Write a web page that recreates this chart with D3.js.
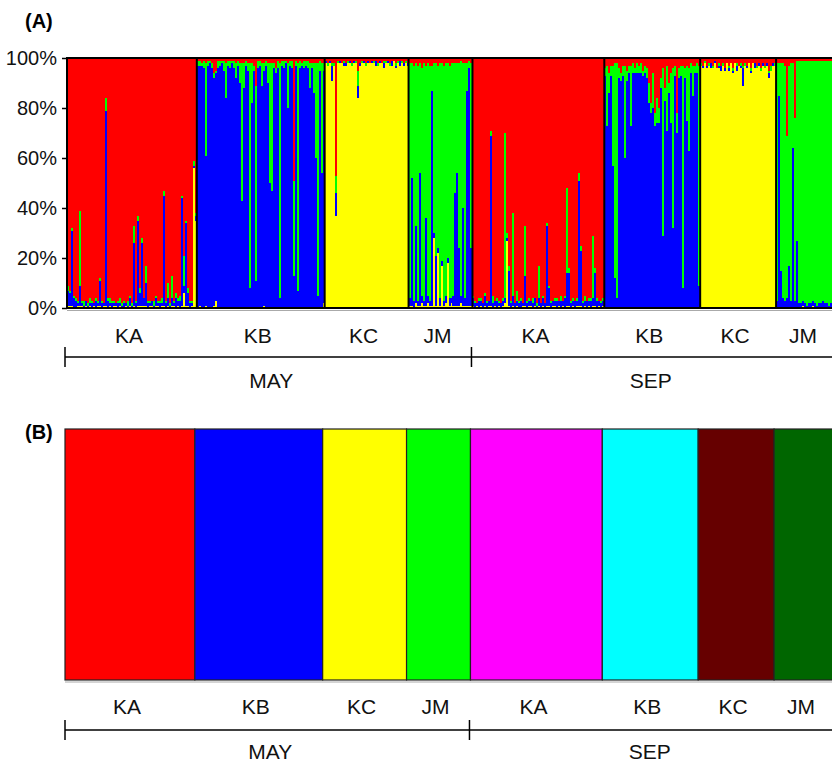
<!DOCTYPE html>
<html>
<head>
<meta charset="utf-8">
<script src="https://cdn.jsdelivr.net/npm/d3@7"></script>
<style>
  body { margin: 0; background: #fff; }
  svg { display: block; font-family: "Liberation Sans", Arial, sans-serif; }
</style>
</head>
<body>
<svg id="chart" width="832" height="763"></svg>
<script>
// clusters, stacked from the bottom of each bar upwards
const clusterKeys = ["yellow", "blue", "green", "red"];
const clusterColors = ["#ffff00", "#0000ff", "#00ff00", "#ff0000"];

const popLabels = ["KA", "KB", "KC", "JM", "KA", "KB", "KC", "JM"];
const seasonLabels = ["MAY", "SEP"];
// dominant cluster of each population, its share is the remainder to 100
const popMajor = [3, 1, 0, 2, 3, 1, 0, 2];
const yTicks = [0, 20, 40, 60, 80, 100];
// panel B: one colour per sampled population
const assignColors = ["#ff0000", "#0000ff", "#ffff00", "#00ff00", "#ff00ff", "#00ffff", "#660000", "#006600"];

// membership in % per individual: [yellow, blue, green, red] (0 at the dominant slot)
const qMayKA = [
  [1,6,2,0],[1,5,1,0],[1,30,1,0],[0,4,1,0],[0,3,1,0],[1,1,1,0],[1,8,30,0],[1,1,1,0],[0,1,2,0],[1,2,0,0],
  [0,1,1,0],[1,1,2,0],[0,2,1,0],[1,1,0,0],[0,3,1,0],[1,1,1,0],[1,10,1,0],[0,2,1,0],[1,1,0,0],[1,78,5,0],
  [0,3,1,0],[1,1,2,0],[0,2,1,0],[1,1,1,0],[1,1,0,0],[0,2,1,0],[1,1,2,0],[0,1,1,0],[0,2,1,0],[1,1,0,0],
  [0,1,2,0],[1,3,1,0],[0,1,1,0],[1,25,7,0],[0,2,1,0],[1,34,2,0],[1,5,2,0],[1,25,2,0],[1,3,0,0],[1,9,7,0],
  [0,2,1,0],[1,1,1,0],[1,2,0,0],[0,1,2,0],[1,3,1,0],[1,1,1,0],[0,2,1,0],[1,1,2,0],[1,44,2,0],[0,2,1,0],
  [1,3,6,0],[0,1,1,0],[1,3,9,0],[1,1,1,0],[0,4,2,0],[1,2,1,0],[0,3,2,0],[1,43,1,0],[6,3,12,0],[1,33,1,0],
  [1,5,2,0],[0,2,1,0],[1,1,1,0],[56,1,2,0],[35,2,1,0]
];
const qMayKB = [
  [0,0,2,1],[1,0,2,1],[0,0,1,2],[0,0,3,1],[1,0,37,2],[0,0,2,1],[0,0,1,1],[0,0,2,2],[1,0,2,6],[3,0,1,5],
  [0,0,3,1],[0,0,2,1],[0,0,1,1],[0,0,4,1],[0,0,14,2],[0,0,2,1],[0,0,3,1],[0,0,1,1],[0,0,3,1],[0,0,6,2],
  [0,0,2,1],[0,0,8,2],[0,0,55,2],[0,0,10,2],[0,0,2,1],[0,0,3,2],[0,0,90,2],[0,0,16,2],[0,0,2,3],[0,0,78,11],
  [0,0,3,1],[0,0,2,1],[0,0,9,2],[1,0,3,2],[0,0,2,1],[0,0,8,2],[0,0,48,2],[0,0,51,2],[0,0,2,2],[0,0,2,4],
  [0,0,3,1],[0,0,94,2],[0,0,2,1],[0,0,3,1],[0,0,1,1],[0,0,18,2],[0,0,2,1],[0,0,3,1],[0,0,38,49],[0,0,2,1],
  [0,0,91,2],[0,0,3,1],[0,0,1,2],[0,0,3,1],[0,0,2,1],[0,0,3,1],[0,0,10,2],[0,0,2,2],[0,0,12,2],[0,0,38,2],
  [0,0,93,2],[0,0,4,1],[0,0,44,2],[2,0,3,2]
];
const qMayKC = [
  [0,1,0,1],[0,0,1,2],[0,1,0,1],[0,6,1,2],[0,0,1,2],[0,9,7,47],[0,0,1,1],[0,1,0,1],[0,0,0,2],[0,1,1,1],
  [0,1,0,2],[0,0,1,1],[0,1,0,1],[0,0,1,2],[0,1,0,1],[0,0,1,1],[0,5,6,5],[0,1,0,2],[0,0,1,1],[0,1,0,1],
  [0,0,1,2],[0,1,0,1],[0,0,0,2],[0,1,0,1],[0,0,1,1],[0,2,0,1],[0,0,1,2],[0,1,0,1],[0,0,0,2],[0,2,1,1],
  [0,0,1,1],[0,1,0,1],[0,0,1,2],[0,2,0,1],[0,0,0,1],[0,1,1,2],[0,0,1,1],[0,2,0,1],[0,0,1,1],[0,1,0,2],
  [0,0,1,1],[0,1,0,2]
];
const qMayJM = [
  [1,3,0,2],[1,51,0,2],[0,3,0,3],[2,31,0,2],[1,2,0,3],[1,53,0,2],[2,3,0,4],[1,2,0,2],[1,35,0,3],[2,3,0,2],
  [1,2,0,3],[1,86,0,3],[28,2,0,2],[1,20,0,2],[22,2,0,3],[1,3,0,2],[17,2,0,2],[1,2,0,3],[2,3,0,2],[18,2,0,2],
  [1,3,0,3],[2,2,0,2],[1,4,0,2],[1,45,0,2],[1,53,0,2],[1,23,0,2],[2,3,0,1],[1,39,0,2],[1,3,0,2],[1,86,0,2],
  [1,95,0,1],[1,23,0,2]
];
const qSepKA = [
  [1,3,1,0],[0,2,1,0],[1,1,0,0],[0,3,1,0],[1,2,1,0],[0,2,0,0],[1,4,1,0],[0,2,1,0],[1,2,0,0],[1,68,2,0],
  [0,2,3,0],[1,2,0,0],[0,3,1,0],[1,1,1,0],[0,2,0,0],[1,2,1,0],[2,2,66,0],[27,1,2,0],[1,14,2,0],[0,2,1,0],
  [1,4,33,0],[0,2,0,0],[1,2,4,0],[0,2,1,0],[0,3,1,0],[1,1,0,0],[1,12,20,0],[0,2,1,0],[1,2,1,0],[1,2,0,0],
  [0,2,2,0],[1,3,0,0],[0,1,1,0],[1,3,13,0],[0,2,0,0],[1,3,1,0],[0,2,0,0],[1,32,1,0],[1,7,1,0],[0,2,1,0],
  [1,2,0,0],[1,2,1,0],[0,3,1,0],[1,2,0,0],[0,3,2,0],[1,2,0,0],[0,4,1,0],[1,13,34,0],[1,13,2,0],[0,2,1,0],
  [1,2,1,0],[0,3,0,0],[1,2,1,0],[1,50,3,0],[1,22,2,0],[0,2,1,0],[1,2,2,0],[0,3,0,0],[1,2,1,0],[0,3,1,0],
  [1,3,25,0],[1,13,2,0],[0,3,1,0],[1,2,0,0],[0,2,1,0],[1,2,1,0]
];
const qSepKB = [
  [0,0,3,4],[0,0,24,3],[0,0,8,6],[0,0,4,3],[0,0,40,3],[0,0,86,2],[0,0,94,2],[0,0,4,4],[0,0,3,6],[0,0,4,3],
  [0,0,37,3],[0,0,4,5],[0,0,3,3],[0,0,24,3],[0,0,4,2],[0,0,2,4],[0,0,4,2],[0,0,3,3],[0,0,4,2],[0,0,2,5],
  [0,0,3,3],[0,0,4,4],[0,0,8,10],[0,0,4,18],[0,0,14,6],[0,0,5,22],[0,0,10,16],[0,0,6,20],[0,0,4,8],[0,0,67,4],
  [0,0,5,12],[0,0,26,3],[0,0,4,10],[0,0,20,6],[0,0,64,4],[0,0,4,3],[0,0,8,22],[0,0,4,4],[0,0,4,3],[0,0,89,3],
  [0,0,4,4],[0,0,22,3],[0,0,33,4],[0,0,4,2],[0,0,12,3],[0,0,3,3],[0,0,4,2],[0,0,88,3]
];
const qSepKC = [
  [0,0,1,2],[0,1,0,3],[0,0,1,1],[0,1,0,3],[0,0,1,2],[0,2,0,2],[0,0,1,3],[0,1,0,1],[0,0,0,4],[0,1,1,2],
  [0,2,0,3],[0,0,1,2],[0,1,0,4],[0,0,0,2],[0,1,1,3],[0,0,0,2],[0,1,1,4],[0,0,0,2],[0,2,1,2],[0,0,0,3],
  [0,1,1,2],[0,7,1,3],[0,0,1,2],[0,1,0,3],[0,0,0,2],[0,1,1,4],[0,0,0,2],[0,2,0,2],[0,0,1,3],[0,1,0,2],
  [0,0,1,4],[0,1,0,2],[0,0,1,3],[0,1,0,2],[0,2,1,5],[0,0,2,3],[0,1,0,2],[0,0,1,2]
];
const qSepJM = [
  [0,3,0,2],[0,85,0,2],[0,15,0,2],[0,4,0,2],[0,3,0,3],[0,4,0,31],[0,17,0,3],[0,3,0,2],[0,64,0,2],[0,3,0,24],
  [0,27,0,1],[0,2,0,1],[0,2,0,1],[1,2,0,1],[0,2,0,1],[0,1,0,1],[0,2,0,1],[0,2,0,1],[1,2,0,1],[0,2,0,1],
  [0,1,0,1],[0,2,0,1],[0,2,0,1],[0,3,0,1],[0,2,0,1],[0,2,0,1],[0,1,0,1],[0,2,0,1],[0,2,0,1],[0,5,0,1]
];

const pops = [qMayKA, qMayKB, qMayKC, qMayJM, qSepKA, qSepKB, qSepKC, qSepJM];

// flatten into one row per individual
const inds = [];
const popStart = [];
pops.forEach((arr, p) => {
  popStart.push(inds.length);
  arr.forEach(q => {
    const v = q.slice();
    v[popMajor[p]] = 100 - d3.sum(q);
    const row = { id: inds.length, pop: p };
    clusterKeys.forEach((k, i) => row[k] = v[i]);
    inds.push(row);
  });
});
popStart.push(inds.length);

const svg = d3.select("#chart");
svg.append("rect").attr("width", 832).attr("height", 763).attr("fill", "#fff");

// ---------- panel A ----------
const xA = d3.scaleBand().domain(inds.map(d => d.id)).range([67, 836]);
const yA = d3.scaleLinear().domain([0, 100]).range([308, 58]);
const edgeA = i => i >= inds.length ? xA.range()[1] : xA(i);
// snap every bar to whole pixels so neighbours neither overlap nor leave gaps
const barX = id => Math.round(xA(id));
const barW = id => Math.round(xA(id) + xA.bandwidth()) - Math.round(xA(id));

const series = d3.stack().keys(clusterKeys)(inds);
const gA = svg.append("g");
gA.selectAll("g.layer")
  .data(series)
  .join("g")
    .attr("class", "layer")
    .attr("fill", (d, i) => clusterColors[i])
    .attr("shape-rendering", "crispEdges")
  .selectAll("rect")
  .data(d => d.filter(s => s[1] > s[0]))
  .join("rect")
    .attr("x", s => barX(s.data.id))
    .attr("width", s => barW(s.data.id))
    .attr("y", s => yA(s[1]))
    .attr("height", s => yA(s[0]) - yA(s[1]));

// population separators and frame
gA.selectAll("line.sep")
  .data(popStart.slice(1, -1))
  .join("line")
    .attr("x1", i => edgeA(i)).attr("x2", i => edgeA(i))
    .attr("y1", 58).attr("y2", 308)
    .attr("stroke", "#000").attr("stroke-width", 2);
gA.append("line").attr("x1", 67).attr("x2", 836).attr("y1", 310.5).attr("y2", 310.5)
  .attr("stroke", "#aaa").attr("stroke-width", 1);
gA.append("rect")
  .attr("x", 67).attr("y", 58).attr("width", 836 - 67).attr("height", 250)
  .attr("fill", "none").attr("stroke", "#000").attr("stroke-width", 2);

const yAxis = d3.axisLeft(yA).tickValues(yTicks).tickFormat(d => d + "%").tickSize(5).tickPadding(5);
const gy = svg.append("g").attr("transform", "translate(67,0)").call(yAxis);
gy.select(".domain").remove();
gy.selectAll(".tick line").attr("stroke", "#000").attr("stroke-width", 1.5);
gy.selectAll(".tick text").attr("font-size", 20).attr("fill", "#111")
  .attr("font-family", "'Liberation Sans', Arial, sans-serif");

// ---------- shared labelling under a panel ----------
function drawLabels(edge, labelY, bracketY, seasonY) {
  svg.append("g").selectAll("text")
    .data(popLabels)
    .join("text")
      .attr("x", (d, p) => (edge(popStart[p]) + edge(popStart[p + 1])) / 2 - 3)
      .attr("y", labelY)
      .attr("text-anchor", "middle")
      .attr("font-size", 21)
      .attr("fill", "#111")
      .text(d => d);

  const left = 65, mid = edge(popStart[4]) - 1, right = 836;
  const g = svg.append("g").attr("stroke", "#000").attr("stroke-width", 1.5);
  g.append("line").attr("x1", left).attr("x2", right).attr("y1", bracketY).attr("y2", bracketY);
  g.selectAll("line.tk").data([left, mid]).join("line")
    .attr("x1", d => d).attr("x2", d => d)
    .attr("y1", bracketY - 10).attr("y2", bracketY + 10);

  svg.append("g").selectAll("text")
    .data(seasonLabels)
    .join("text")
      .attr("x", (d, i) => i === 0 ? (left + mid) / 2 + 3 : (mid + right) / 2 - 3)
      .attr("y", seasonY)
      .attr("text-anchor", "middle")
      .attr("font-size", 21)
      .attr("fill", "#111")
      .text(d => d);
}

drawLabels(edgeA, 343, 357, 388);

// ---------- panel B ----------
const xB = d3.scaleLinear().domain([0, inds.length]).range([65, 834]);
svg.append("g").selectAll("rect")
  .data(assignColors)
  .join("rect")
    .attr("x", (c, p) => xB(popStart[p]))
    .attr("width", (c, p) => xB(popStart[p + 1]) - xB(popStart[p]))
    .attr("y", 429).attr("height", 251)
    .attr("fill", c => c)
    .attr("stroke", "#222").attr("stroke-width", 1.2);
svg.append("line").attr("x1", 65).attr("x2", 834).attr("y1", 682).attr("y2", 682)
  .attr("stroke", "#aaa").attr("stroke-width", 1);

drawLabels(xB, 714, 730, 759);

// panel letters
svg.append("text").attr("x", 25).attr("y", 28).attr("font-size", 20).attr("font-weight", "bold").text("(A)");
svg.append("text").attr("x", 25).attr("y", 439).attr("font-size", 20).attr("font-weight", "bold").text("(B)");
</script>
</body>
</html>
